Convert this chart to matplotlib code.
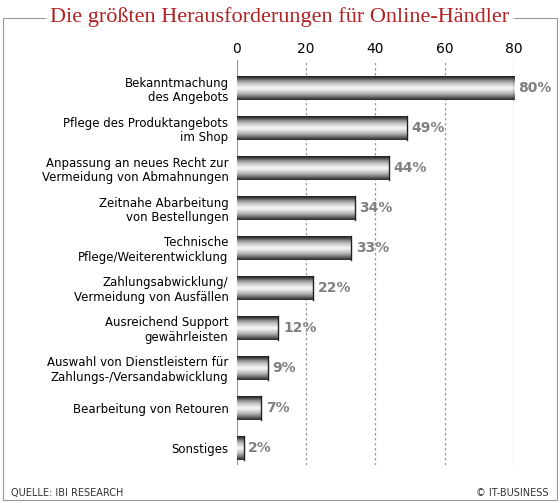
import matplotlib
matplotlib.use('Agg')
import matplotlib.pyplot as plt
import numpy as np

categories = ['Bekanntmachung\ndes Angebots', 'Pflege des Produktangebots\nim Shop',
              'Anpassung an neues Recht zur\nVermeidung von Abmahnungen',
              'Zeitnahe Abarbeitung\nvon Bestellungen', 'Technische\nPflege/Weiterentwicklung',
              'Zahlungsabwicklung/\nVermeidung von Ausfällen', 'Ausreichend Support\ngewährleisten',
              'Auswahl von Dienstleistern für\nZahlungs-/Versandabwicklung',
              'Bearbeitung von Retouren', 'Sonstiges']
values = [80, 49, 44, 34, 33, 22, 12, 9, 7, 2]
ticks = [0, 20, 40, 60, 80]

fig = plt.figure(figsize=(5.6, 5.03), dpi=100)
ax = fig.add_axes([0.423, 0.0755, 0.495, 0.805])

# vertical gray gradient for the bars: dark edges, light middle
profile = np.array([0.15, 0.35, 0.55, 0.7, 0.8, 0.9, 0.97, 0.9, 0.8, 0.7, 0.55, 0.4, 0.2])
grad = profile.reshape(-1, 1)
h = 0.3
for i, v in enumerate(values):
    ax.imshow(grad, cmap='gray', vmin=0, vmax=1, aspect='auto',
              extent=(0, v, i + h, i - h), interpolation='bilinear', zorder=3)
    ax.plot([v, v], [i - h, i + h], color='#222222', lw=1, zorder=4)
    ax.text(v + 1.3, i, f'{v}%', va='center', ha='left', fontsize=10,
            color='#808080', fontweight='semibold', clip_on=False)

ax.set_xlim(0, 80)
ax.set_ylim(9.43, -0.7)
ax.set_xticks(ticks)
ax.xaxis.tick_top()
ax.tick_params(axis='x', length=0, labelsize=10, pad=3)
ax.set_yticks(range(len(categories)))
ax.set_yticklabels(categories, fontsize=8.5, linespacing=1.15)
ax.tick_params(axis='y', length=0, pad=6)
for t in ticks[1:]:
    ax.axvline(t, color='#999999', lw=0.9, ls=(0, (2, 2)) if t < 80 else '-', zorder=1)
for s in ax.spines.values():
    s.set_visible(False)
ax.axvline(0, color='#999999', lw=0.9, zorder=1)

# figure frame and title
fig.patches.append(plt.Rectangle((0.005, 0.005), 0.99, 0.96, transform=fig.transFigure,
                                 fill=False, edgecolor='#999999', lw=0.8))
fig.text(0.5, 0.966, 'Die größten Herausforderungen für Online-Händler', ha='center', va='center',
         fontsize=16, color='#b22222', family='Liberation Serif',
         bbox=dict(facecolor='white', edgecolor='none', pad=3))
fig.text(0.02, 0.013, 'QUELLE: IBI RESEARCH', fontsize=7, color='#333333')
fig.text(0.98, 0.013, '© IT-BUSINESS', fontsize=7, color='#333333', ha='right')

fig.savefig('out.png', dpi=100)
